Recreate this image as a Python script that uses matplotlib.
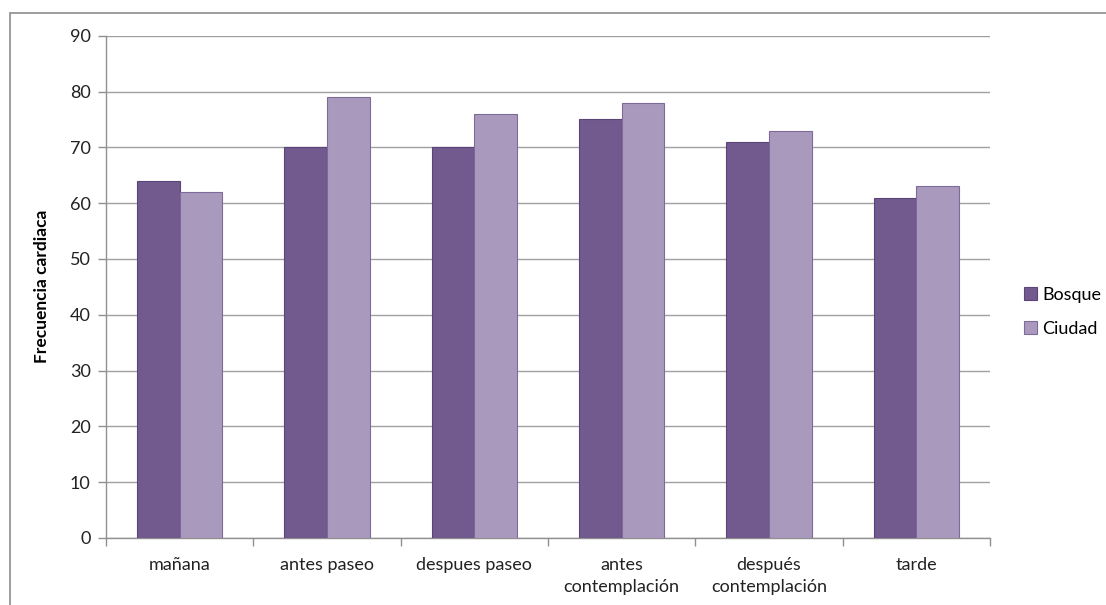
import numpy as np
import matplotlib.pyplot as plt
from matplotlib.patches import Rectangle

categorias = ["mañana", "antes paseo", "despues paseo", "antes\ncontemplación",
              "después\ncontemplación", "tarde"]
bosque = [64, 70, 70, 75, 71, 61]
ciudad = [62, 79, 76, 78, 73, 63]
yticks = [0, 10, 20, 30, 40, 50, 60, 70, 80, 90]

plt.rcParams['font.family'] = ['Lato', 'DejaVu Sans']

fig = plt.figure(figsize=(11.06, 6.05), dpi=100)
# marco exterior del grafico
fig.patches.append(Rectangle((10 / 1106, -0.1), 1.2, 1 - 13 / 605 + 0.1,
                             transform=fig.transFigure, fill=False,
                             edgecolor='#8c8c8c', linewidth=1.2))

ax = fig.add_axes([106 / 1106, 1 - 538 / 605, (990 - 106) / 1106, (538 - 35.5) / 605])

x = np.arange(len(categorias))
w = 0.289
ax.bar(x - w / 2, bosque, w, color='#72598E', edgecolor='#5a4478', linewidth=0.8,
       label='Bosque', zorder=3)
ax.bar(x + w / 2, ciudad, w, color='#A99ABD', edgecolor='#7e6a9a', linewidth=0.8,
       label='Ciudad', zorder=3)

ax.set_xlim(-0.5, len(categorias) - 0.5)
ax.set_ylim(0, 90.05)
ax.set_yticks(yticks)
ax.yaxis.grid(True, color='#a0a0a0', linewidth=1.0, zorder=0)
ax.set_axisbelow(True)

ax.set_xticks(x)
ax.set_xticklabels(categorias, fontsize=13, color='#222222', linespacing=1.4)
ax.tick_params(axis='x', length=0, pad=14)
ax.set_xticks(np.arange(len(categorias) + 1) - 0.5, minor=True)
ax.tick_params(axis='x', which='minor', length=6, color='#909090', width=1)
ax.tick_params(axis='y', length=6, color='#909090', width=1, labelsize=13,
               labelcolor='#222222', pad=5)

for s in ['top', 'right']:
    ax.spines[s].set_visible(False)
for s in ['left', 'bottom']:
    ax.spines[s].set_color('#909090')
    ax.spines[s].set_linewidth(1.0)

ax.set_ylabel('Frecuencia cardiaca', fontsize=12.5, fontweight='bold', labelpad=14)

ax.legend(loc='center left', bbox_to_anchor=(1.02, 0.45), frameon=False,
          fontsize=13, handlelength=0.7, handleheight=0.7, handletextpad=0.3,
          labelspacing=1.0)

fig.savefig('out.png', dpi=100)
